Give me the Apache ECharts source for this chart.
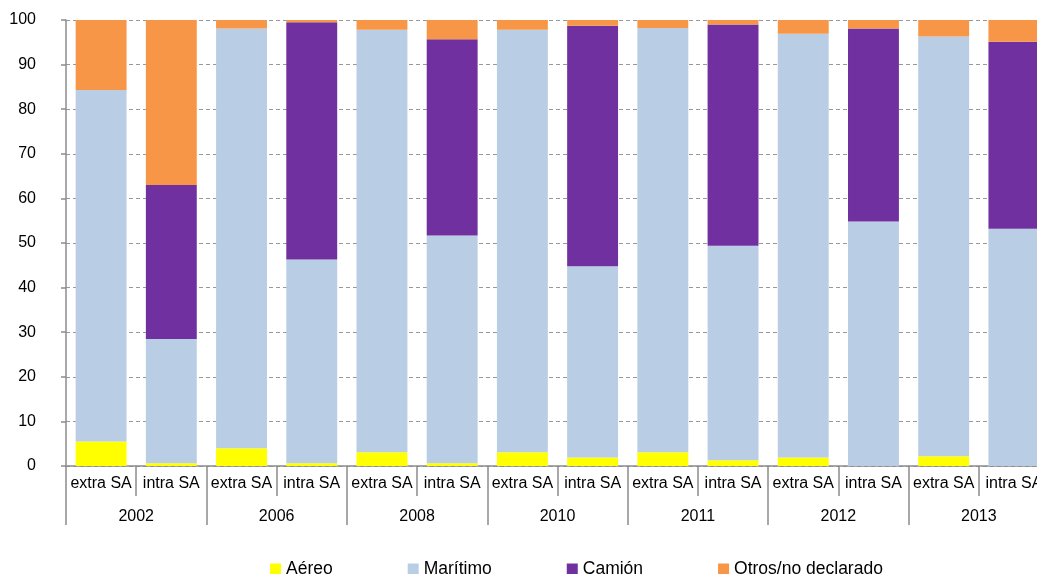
<!DOCTYPE html>
<html>
<head>
<meta charset="utf-8">
<style>
html,body{margin:0;padding:0;background:#fff;overflow:hidden;}
#chart{width:1037px;height:574px;}
</style>
<script src="https://cdn.jsdelivr.net/npm/echarts@6/dist/echarts.min.js"></script>
</head>
<body>
<div id="chart"></div>
<script>
var years = ['2002', '2006', '2008', '2010', '2011', '2012', '2013'];
var categories = ['extra SA', 'intra SA', 'extra SA', 'intra SA', 'extra SA', 'intra SA', 'extra SA', 'intra SA', 'extra SA', 'intra SA', 'extra SA', 'intra SA', 'extra SA', 'intra SA'];
var seriesNames = ['Aéreo', 'Marítimo', 'Camión', 'Otros/no declarado'];
var aereo    = [5.5, 0.6, 4.0, 0.6, 3.1, 0.6, 3.1, 1.9, 3.1, 1.3, 1.9, 0.0, 2.2, 0.0];
var maritimo = [78.8, 27.9, 94.1, 45.7, 94.7, 51.1, 94.7, 42.9, 95.1, 48.1, 95.0, 54.8, 94.1, 53.2];
var camion   = [0, 34.5, 0, 53.2, 0, 44.0, 0, 53.9, 0, 49.6, 0, 43.3, 0, 41.9];
var otros    = [15.7, 37.0, 1.9, 0.5, 2.2, 4.3, 2.2, 1.3, 1.8, 1.0, 3.1, 1.9, 3.7, 4.9];
var yTicks   = [0, 10, 20, 30, 40, 50, 60, 70, 80, 90, 100];

var colors = ['#FFFF00', '#B9CDE5', '#7030A0', '#F79646'];
var font = "'Liberation Sans', Arial, sans-serif";
var axisGray = '#8c8c8c';

var chart = echarts.init(document.getElementById('chart'), null, {renderer: 'canvas'});
var dataSets = [aereo, maritimo, camion, otros];

chart.setOption({
  animation: false,
  color: colors,
  textStyle: {fontFamily: font, color: '#000'},
  grid: {left: 66, top: 20, height: 446, width: 983, containLabel: false, outerBoundsMode: 'none'},
  legend: {
    data: seriesNames,
    left: 265,
    top: 555,
    itemWidth: 11,
    itemHeight: 11,
    itemGap: 75,
    icon: 'rect',
    textStyle: {fontFamily: font, fontSize: 17.5, color: '#000'}
  },
  xAxis: [
    {
      type: 'category',
      data: categories,
      position: 'bottom',
      boundaryGap: true,
      axisLine: {show: true, lineStyle: {color: axisGray, width: 1.5}},
      axisTick: {show: true, interval: 0, length: 30, lineStyle: {color: axisGray, width: 1.5}},
      axisLabel: {interval: 0, margin: 10, fontSize: 16, color: '#000', fontFamily: font},
      splitLine: {show: false}
    },
    {
      type: 'category',
      data: years,
      position: 'bottom',
      gridIndex: 0,
      boundaryGap: true,
      axisLine: {show: false},
      axisTick: {show: true, interval: 0, length: 59, lineStyle: {color: axisGray, width: 1.5}},
      axisLabel: {interval: 0, margin: 43, fontSize: 16, color: '#000', fontFamily: font},
      splitLine: {show: false}
    }
  ],
  yAxis: {
    type: 'value',
    min: yTicks[0],
    max: yTicks[yTicks.length - 1],
    interval: 10,
    axisLine: {show: true, lineStyle: {color: axisGray, width: 1.5}},
    axisTick: {show: true, length: 5, lineStyle: {color: axisGray, width: 1.5}},
    axisLabel: {margin: 30, fontSize: 16, color: '#000', fontFamily: font},
    splitLine: {show: true, lineStyle: {color: '#999', type: [4, 3], width: 1}}
  },
  series: seriesNames.map(function (name, i) {
    return {
      name: name,
      type: 'bar',
      stack: 'total',
      xAxisIndex: 0,
      barWidth: '72.5%',
      data: dataSets[i],
      itemStyle: {color: colors[i]}
    };
  })
});
</script>
</body>
</html>
